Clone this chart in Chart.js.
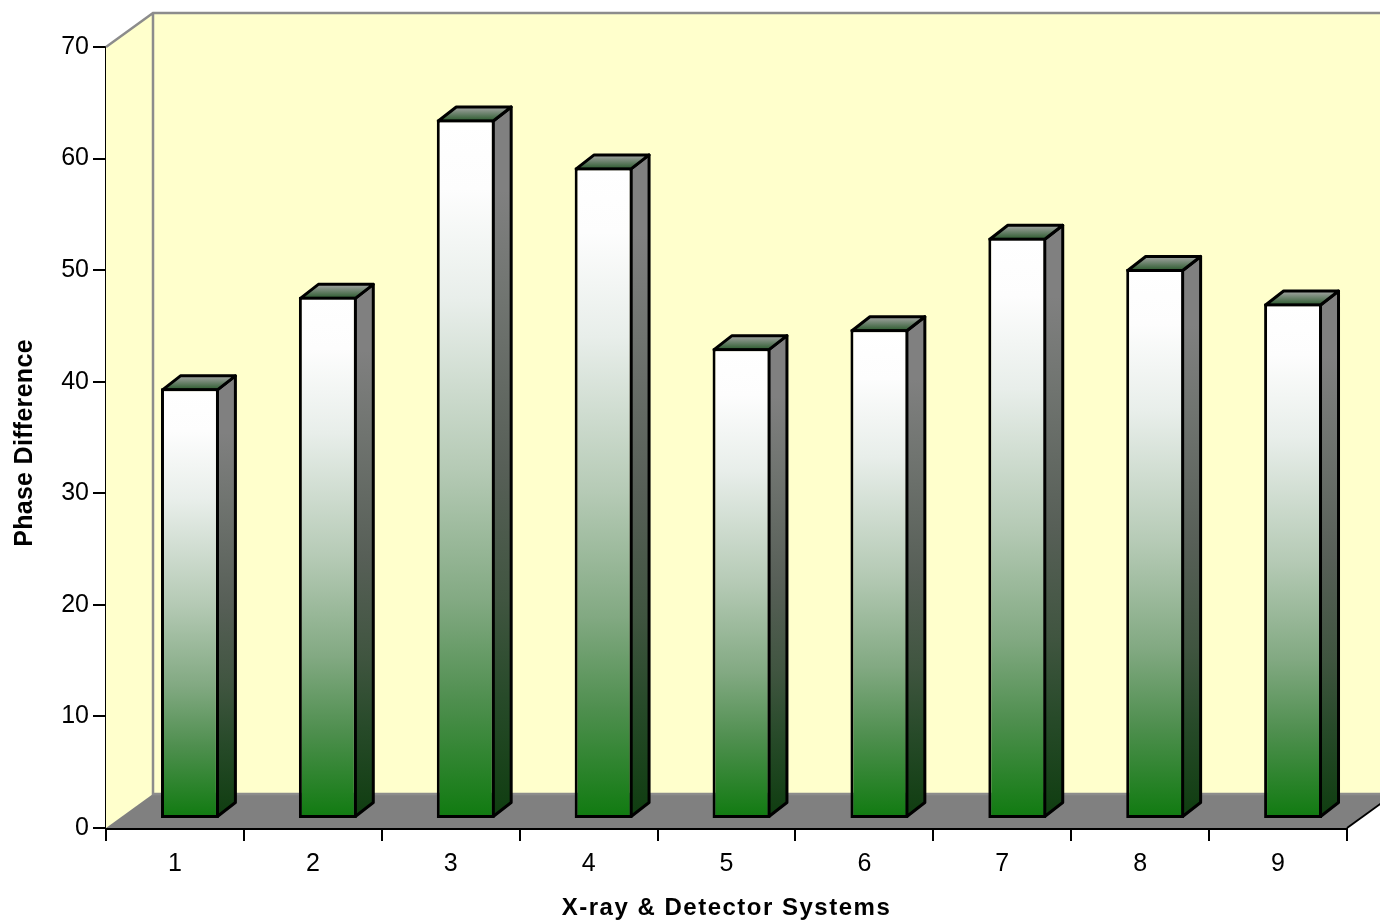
<!DOCTYPE html>
<html>
<head>
<meta charset="utf-8">
<title>Phase Difference</title>
<script src="https://cdn.jsdelivr.net/npm/chart.js@4/dist/chart.umd.min.js"></script>
<style>
    html, body { margin: 0; padding: 0; background: #fff; overflow: hidden; }
    canvas { display: block; }
</style>
</head>
<body>
<canvas id="myChart" width="1380" height="921"></canvas>
<script>
const systems = ['1', '2', '3', '4', '5', '6', '7', '8', '9'];
const phaseDifference = [38.6, 46.8, 62.7, 58.4, 42.2, 43.9, 52.1, 49.3, 46.2];

// depth of the fake 3D box and of the bars inside it
const wallDepth = { x: 47, y: -34 };
const barOffset = { x: 15, y: -9 };
const barDepth = { x: 18, y: -14 };
const barLine = 3;

function poly(ctx, pts) {
    ctx.beginPath();
    pts.forEach((p, i) => i ? ctx.lineTo(p[0], p[1]) : ctx.moveTo(p[0], p[1]));
    ctx.closePath();
}

function addStops(g, stops) {
    stops.forEach(s => g.addColorStop(s[0], s[1]));
    return g;
}

// Back wall, side wall and floor behind everything else
const box3d = {
    id: 'box3d',
    beforeDatasetsDraw(chart) {
        const ctx = chart.ctx;
        const a = chart.chartArea;
        const dx = wallDepth.x, dy = wallDepth.y;
        ctx.save();
        ctx.fillStyle = '#ffffcc';
        poly(ctx, [[a.left, a.top], [a.left + dx, a.top + dy], [a.right + dx, a.top + dy], [a.right + dx, a.bottom + dy], [a.left, a.bottom]]);
        ctx.fill();
        ctx.fillStyle = '#808080';
        poly(ctx, [[a.left, a.bottom], [a.left + dx, a.bottom + dy], [a.right + dx, a.bottom + dy], [a.right, a.bottom]]);
        ctx.fill();

        ctx.strokeStyle = '#8c8c8c';
        ctx.lineWidth = 2.5;
        ctx.beginPath();
        ctx.moveTo(a.left, a.top);
        ctx.lineTo(a.left + dx, a.top + dy);
        ctx.lineTo(a.right + dx, a.top + dy);
        ctx.moveTo(a.left + dx, a.top + dy);
        ctx.lineTo(a.left + dx, a.bottom + dy);
        ctx.lineTo(a.right + dx, a.bottom + dy);
        ctx.stroke();

        ctx.strokeStyle = '#000';
        ctx.lineWidth = 2;
        ctx.beginPath();
        ctx.moveTo(a.right, a.bottom);
        ctx.lineTo(a.right + dx, a.bottom + dy);
        ctx.stroke();
        ctx.restore();
    },
    beforeDatasetDraw(chart, args) {
        const ctx = chart.ctx;
        ctx.save();
        ctx.translate(barOffset.x, barOffset.y);
        ctx.lineWidth = barLine;
        ctx.lineJoin = 'round';
        ctx.strokeStyle = '#000';
        args.meta.data.forEach(el => {
            const inset = barLine / 2;
            const left = el.x - el.width / 2 + inset, right = el.x + el.width / 2 - inset;
            const top = el.y + inset, base = el.base - inset;
            const dx = barDepth.x, dy = barDepth.y;

            ctx.fillStyle = addStops(ctx.createLinearGradient(0, top, 0, base), [
                [0, '#808080'], [0.1, '#808080'], [0.26, '#707470'], [0.5, '#575f57'],
                [0.69, '#405540'], [0.83, '#274a29'], [1, '#0f3d10']
            ]);
            poly(ctx, [[right, top], [right + dx, top + dy], [right + dx, base + dy], [right, base]]);
            ctx.fill();
            ctx.stroke();

            ctx.fillStyle = addStops(ctx.createLinearGradient(0, top + dy, 0, top), [
                [0, '#a6a6a6'], [1, '#2a5a2c']
            ]);
            poly(ctx, [[left, top], [left + dx, top + dy], [right + dx, top + dy], [right, top]]);
            ctx.fill();
            ctx.stroke();
        });
    },
    afterDatasetDraw(chart) {
        chart.ctx.restore();
    }
};

function frontFill(context) {
    const chart = context.chart;
    if (!chart.chartArea || context.raw === undefined) return '#0f7a0f';
    const y = chart.scales.y;
    const g = chart.ctx.createLinearGradient(0, y.getPixelForValue(context.raw), 0, y.getPixelForValue(0));
    return addStops(g, [
        [0, '#ffffff'], [0.1, '#fdfdfd'], [0.26, '#e8eeea'], [0.5, '#b5cab5'],
        [0.69, '#82a982'], [0.83, '#4f8f4f'], [1, '#0f7a0f']
    ]);
}

// Chart.js has no letter spacing option, so wrap the scale's title drawing
function titleSpacing(spacing, shiftY) {
    return scale => {
        scale.drawTitle = function() {
            this.ctx.save();
            this.ctx.letterSpacing = spacing;
            this.ctx.translate(0, shiftY);
            Chart.Scale.prototype.drawTitle.call(this);
            this.ctx.restore();
        };
    };
}

const ctx = document.getElementById('myChart').getContext('2d');
new Chart(ctx, {
    type: 'bar',
    data: {
        labels: systems,
        datasets: [{
            label: 'Phase Difference',
            data: phaseDifference,
            backgroundColor: frontFill,
            borderColor: '#000',
            borderWidth: barLine,
            borderSkipped: false,
            barPercentage: 0.42,
            categoryPercentage: 1,
            clip: false
        }]
    },
    options: {
        responsive: false,
        animation: false,
        layout: { padding: { top: 47, right: 33, left: 0, bottom: 0 } },
        plugins: { legend: { display: false }, tooltip: { enabled: false } },
        scales: {
            x: {
                afterFit(scale) { scale.height = 93; },
                afterUpdate: titleSpacing('1.5px', 2),
                grid: { drawOnChartArea: false, color: '#000', lineWidth: 2, tickLength: 13 },
                border: { color: '#000', width: 3 },
                ticks: { color: '#000', padding: 8, maxRotation: 0, font: { family: 'Liberation Sans', size: 25 } },
                title: {
                    display: true,
                    text: 'X-ray & Detector Systems',
                    color: '#000',
                    padding: 0,
                    font: { family: 'Liberation Sans', size: 24, weight: 'bold' }
                }
            },
            y: {
                min: 0,
                max: 70,
                afterFit(scale) { scale.width = 106; },
                afterUpdate: titleSpacing('0.3px', 5.5),
                grid: { drawOnChartArea: false, color: '#000', lineWidth: 2, tickLength: 13 },
                border: { color: '#000', width: 3 },
                ticks: { color: '#000', padding: 4, stepSize: 10, font: { family: 'Liberation Sans', size: 25 } },
                title: {
                    display: true,
                    text: 'Phase Difference',
                    color: '#000',
                    padding: { top: 10, bottom: 0 },
                    font: { family: 'Liberation Sans', size: 25, weight: 'bold' }
                }
            }
        }
    },
    plugins: [box3d]
});
</script>
</body>
</html>
